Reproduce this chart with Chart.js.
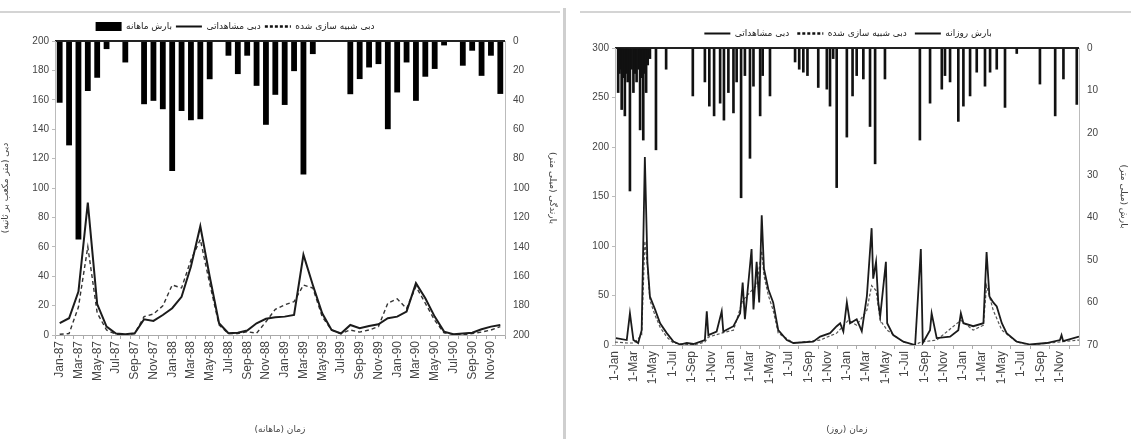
<!DOCTYPE html>
<html>
<head>
<meta charset="utf-8">
<script src="https://cdn.jsdelivr.net/npm/chart.js@4.4.0/dist/chart.umd.min.js"></script>
<style>
  body { margin: 0; background: #fff; }
  #wrap { position: relative; width: 1131px; height: 439px; overflow: hidden; background: #fff; }
  #left { position: absolute; left: 0; top: 0; width: 560px; height: 439px; }
  #right { position: absolute; left: 565px; top: 0; width: 566px; height: 439px; }
  .hline { position: absolute; top: 11px; height: 2px; background: #d4d4d4; }
  .vline { position: absolute; left: 563px; top: 8px; width: 3px; height: 431px; background: #cfcfcf; }
</style>
</head>
<body>
<div id="wrap">
  <div class="hline" style="left:0;width:560px"></div>
  <div class="hline" style="left:580px;width:551px"></div>
  <div class="vline"></div>
  <div id="left"><canvas id="chartLeft"></canvas></div>
  <div id="right"><canvas id="chartRight"></canvas></div>
</div>
<script>
// ---- monthly panel ----
var monthLabels = [
  'Jan-87','Feb-87','Mar-87','Apr-87','May-87','Jun-87','Jul-87','Aug-87','Sep-87','Oct-87','Nov-87','Dec-87',
  'Jan-88','Feb-88','Mar-88','Apr-88','May-88','Jun-88','Jul-88','Aug-88','Sep-88','Oct-88','Nov-88','Dec-88',
  'Jan-89','Feb-89','Mar-89','Apr-89','May-89','Jun-89','Jul-89','Aug-89','Sep-89','Oct-89','Nov-89','Dec-89',
  'Jan-90','Feb-90','Mar-90','Apr-90','May-90','Jun-90','Jul-90','Aug-90','Sep-90','Oct-90','Nov-90','Dec-90'
];
var rainMonthly = [42, 71, 135, 34, 25, 5.5, 0, 14.6, 0, 43, 40.7, 46.4,
                   88.5, 47.6, 53.9, 53.2, 26, 0, 10, 22.5, 10, 30.5, 57, 36.6,
                   43.5, 20.5, 90.8, 8.9, 0, 0, 0, 36.2, 25.9, 18, 15.7, 60,
                   35, 14.6, 40.7, 24.3, 19, 3, 0, 16.8, 6.6, 23.7, 10, 36];
var obsMonthly = [8, 11.4, 29.6, 90, 21, 5.7, 1, 0.5, 1.2, 10.7, 9.6, 13.6,
                  18.2, 26, 46.6, 74, 39.8, 8, 1.2, 1.6, 3, 8, 11, 12,
                  12.5, 13.6, 54.6, 34, 14.8, 3.4, 1, 6.8, 4.6, 6.1, 7.3, 11.4,
                  12.5, 15.9, 35.3, 25, 12.5, 2.3, 0.5, 1, 1.6, 3.9, 5.7, 6.8];
var simMonthly = [0.5, 1, 19, 60, 15, 3.4, 0.5, 0, 1, 12.5, 14.3, 19.8,
                  34, 32, 51, 65, 35, 6.8, 1, 1, 2.3, 1.2, 9, 17.5,
                  20.5, 22.7, 34, 32, 12.5, 3.4, 1, 3.4, 2, 3.4, 5.7, 21.6,
                  24.6, 18, 33, 21.6, 10, 1.5, 0.5, 0, 1, 2, 3.4, 5.7];

// ---- daily panel ----
var dayTicks = [0, 59, 120, 181, 243, 304, 365, 425, 486, 547, 609, 670,
                731, 790, 851, 912, 974, 1035, 1096, 1155, 1216, 1277, 1339, 1400];
var dayTickLabels = ['1-Jan','1-Mar','1-May','1-Jul','1-Sep','1-Nov','1-Jan','1-Mar','1-May','1-Jul','1-Sep','1-Nov',
                     '1-Jan','1-Mar','1-May','1-Jul','1-Sep','1-Nov','1-Jan','1-Mar','1-May','1-Jul','1-Sep','1-Nov'];
var obsDays = [3, 37, 47, 58, 73, 84, 94, 102, 110, 126, 142, 163, 184, 205, 226, 247, 283, 289, 294, 320, 336, 341,
               373, 394, 402, 409, 430, 436, 446, 454, 462, 469, 483, 498, 514, 541, 562, 624, 646, 677, 698, 709,
               719, 730, 740, 761, 777, 793, 808, 813, 822, 829, 835, 853, 857, 876, 908, 945, 963, 969, 992, 997,
               1013, 1055, 1081, 1089, 1097, 1128, 1160, 1170, 1179, 1191, 1202, 1218, 1233, 1265, 1307, 1359, 1401,
               1406, 1411, 1461];
var obsFlow = [7, 5, 32, 5, 2, 15, 190, 84, 49, 36, 22, 12, 3.4, 0.5, 2, 1, 5, 34, 10, 13.6, 34, 13.6,
               19, 32, 63, 26, 97, 36, 84, 43, 131, 77, 56, 43, 15, 5, 2, 3.4, 8.5, 12, 19, 22,
               13.6, 43, 22, 26, 14, 49, 118, 67, 84, 43, 29, 84, 22, 10, 3.4, 0, 97, 2, 15, 32,
               7, 8.5, 15, 32, 22, 19, 22, 94, 49, 43, 39, 22, 12, 3.4, 0.5, 2, 5,
               10, 4, 8.5];
var simDays = [0, 40, 60, 84, 94, 102, 110, 126, 142, 163, 184, 247, 283, 294, 336, 373, 402, 430, 446, 462, 469,
               483, 498, 514, 562, 646, 698, 735, 761, 793, 808, 822, 835, 857, 908, 945, 963, 1013, 1089, 1128,
               1160, 1170, 1191, 1218, 1265, 1307, 1461];
var simFlow = [3, 2, 2, 10, 105, 80, 45, 30, 18, 8, 2, 0, 3, 8, 12, 15, 45, 55, 60, 95, 70,
               50, 35, 12, 2, 5, 12, 25, 20, 35, 60, 55, 25, 15, 3, 0, 3, 5, 25, 15,
               20, 60, 35, 15, 3, 0, 5];
var rainDays = [10, 14, 17, 21, 25, 31, 36, 40, 47, 52, 58, 63, 68, 74, 79, 84, 89, 93, 98, 103, 110, 129, 161,
                245, 283, 297, 312, 331, 343, 357, 373, 383, 397, 409, 425, 436, 457, 465, 488,
                567, 580, 593, 606, 640, 667, 677, 687, 698, 730, 748, 761, 782, 803, 819, 850,
                960, 992, 1029, 1039, 1055, 1081, 1097, 1118, 1139, 1165, 1181, 1202, 1228, 1265,
                1338, 1386, 1412, 1454];
var rainDaily = [10.5, 6, 5, 14.5, 7, 16, 6, 8, 33.7, 5, 10.5, 6, 8, 5, 19.3, 7, 21.7, 6, 10.5, 4, 2.5, 24, 5,
                 11.3, 8, 13.7, 16, 13, 17, 10.5, 15.3, 8, 35.3, 6.5, 26, 9, 16, 6.5, 11.3,
                 3.3, 5, 5.7, 6.5, 9.3, 9.7, 13.7, 2.5, 32.9, 21, 11.3, 6.5, 7.3, 18.5, 27.3, 7.3,
                 21.7, 13, 9.7, 6.5, 8, 17.3, 13.7, 11.3, 5.7, 9, 5.7, 5, 14, 1.3,
                 8.5, 16, 7.3, 13.3];

var tickFont = { family: "'Liberation Sans', 'DejaVu Sans'", size: 10 };
var xTickFont = { family: "'Liberation Sans', 'DejaVu Sans'", size: 12 };
var faFont = { family: "'DejaVu Sans'", size: 9 };

function topLineOnly(ctx) {
  return ctx.tick && ctx.tick.value === 0 ? '#222' : 'rgba(0,0,0,0)';
}

function legendLines(chart) {
  var items = Chart.defaults.plugins.legend.labels.generateLabels(chart);
  items.forEach(function(it) {
    var ds = chart.data.datasets[it.datasetIndex];
    if (it.pointStyle !== 'rect') {
      it.pointStyle = 'line';
      it.lineWidth = ds.borderDash ? 2.5 : 2;
      it.strokeStyle = '#111';
      it.lineDash = ds.borderDash ? [3, 2] : [];
    }
  });
  return items;
}

function byIndex(a, b) { return a.datasetIndex - b.datasetIndex; }

// move the left legend a little to the left, as in the original figure
var shiftLegend = {
  id: 'shiftLegend',
  afterLayout: function(chart) {
    chart.legend.left -= 45;
    chart.legend.right -= 45;
  }
};

new Chart(document.getElementById('chartLeft'), {
  data: {
    labels: monthLabels,
    datasets: [
      { type: 'bar', label: 'بارش ماهانه', data: rainMonthly, yAxisID: 'yRain',
        backgroundColor: '#000', borderWidth: 0, barPercentage: 0.62, categoryPercentage: 1,
        pointStyle: 'rect', order: 3 },
      { type: 'line', label: 'دبی مشاهداتی', data: obsMonthly, yAxisID: 'yQ',
        borderColor: '#1b1b1b', backgroundColor: '#1b1b1b', borderWidth: 2, pointRadius: 0,
        tension: 0, pointStyle: 'line', order: 1 },
      { type: 'line', label: 'دبی شبیه سازی شده', data: simMonthly, yAxisID: 'yQ',
        borderColor: '#333', backgroundColor: '#333', borderWidth: 1.4, borderDash: [4, 3],
        pointRadius: 0, tension: 0, pointStyle: 'line', order: 2 }
    ]
  },
  plugins: [shiftLegend],
  options: {
    responsive: true,
    maintainAspectRatio: false,
    animation: false,
    layout: { padding: { top: 18, right: 0, left: 0, bottom: 0 } },
    plugins: {
      legend: {
        position: 'top',
        labels: { usePointStyle: true, pointStyleWidth: 26, boxHeight: 10, font: faFont,
                  color: '#222', padding: 4, generateLabels: legendLines, sort: byIndex }
      },
      tooltip: { enabled: false }
    },
    scales: {
      x: {
        offset: true,
        border: { color: '#aaa' },
        grid: { drawOnChartArea: false, tickLength: 4, color: '#aaa' },
        ticks: { autoSkip: false, maxRotation: 90, minRotation: 90, font: xTickFont, color: '#444', padding: 2,
                 callback: function(v, i) { return i % 2 === 0 ? monthLabels[i] : ''; } },
        title: { display: true, text: 'زمان (ماهانه)', font: faFont, color: '#444', padding: 4 },
        afterFit: function(s) { s.height = 104; }
      },
      yQ: {
        position: 'left', min: 0, max: 200,
        border: { color: '#bbb' },
        grid: { drawOnChartArea: false, tickLength: 3, color: '#bbb' },
        ticks: { stepSize: 20, font: tickFont, color: '#444' },
        title: { display: true, text: 'دبی (متر مکعب بر ثانیه)', font: faFont, color: '#444', padding: 0 },
        afterFit: function(s) { s.width = 55; }
      },
      yRain: {
        position: 'right', min: 0, max: 200, reverse: true,
        border: { color: '#bbb' },
        grid: { drawOnChartArea: true, drawTicks: false, color: topLineOnly, lineWidth: 2 },
        ticks: { stepSize: 20, font: tickFont, color: '#444', padding: 8 },
        title: { display: true, text: 'بارندگی (میلی متر)', font: faFont, color: '#444', padding: 2 },
        afterFit: function(s) { s.width = 55; }
      }
    }
  }
});

new Chart(document.getElementById('chartRight'), {
  data: {
    datasets: [
      { type: 'line', label: 'دبی مشاهداتی', yAxisID: 'yQ',
        data: obsDays.map(function(d, i) { return { x: d, y: obsFlow[i] }; }),
        borderColor: '#1b1b1b', backgroundColor: '#1b1b1b', borderWidth: 1.8, pointRadius: 0, tension: 0, order: 1 },
      { type: 'line', label: 'دبی شبیه سازی شده', yAxisID: 'yQ',
        data: simDays.map(function(d, i) { return { x: d, y: simFlow[i] }; }),
        borderColor: '#555', backgroundColor: '#555', borderWidth: 1.2, borderDash: [3, 2],
        pointRadius: 0, tension: 0, order: 2 },
      { type: 'bar', label: 'بارش روزانه', yAxisID: 'yRain',
        data: rainDays.map(function(d, i) { return { x: d, y: rainDaily[i] }; }),
        backgroundColor: '#111', borderWidth: 0, barThickness: 2, order: 3 }
    ]
  },
  options: {
    responsive: true,
    maintainAspectRatio: false,
    animation: false,
    layout: { padding: { top: 21, right: 0, left: 0, bottom: 0 } },
    plugins: {
      legend: {
        position: 'top',
        labels: { usePointStyle: true, pointStyleWidth: 26, boxHeight: 10, font: faFont,
                  color: '#222', padding: 8, generateLabels: legendLines, sort: byIndex }
      },
      tooltip: { enabled: false }
    },
    scales: {
      x: {
        type: 'linear', min: 0, max: 1461, offset: false,
        border: { color: '#aaa' },
        grid: { drawOnChartArea: false, tickLength: 4, color: '#aaa' },
        afterBuildTicks: function(s) { s.ticks = dayTicks.map(function(d) { return { value: d }; }); },
        ticks: { autoSkip: false, maxRotation: 90, minRotation: 90, font: xTickFont, color: '#444', padding: 2,
                 callback: function(v, i) { return dayTickLabels[i]; } },
        title: { display: true, text: 'زمان (روز)', font: faFont, color: '#444', padding: 4 },
        afterFit: function(s) { s.height = 94; }
      },
      yQ: {
        position: 'left', min: 0, max: 300,
        border: { color: '#bbb' },
        grid: { drawOnChartArea: false, tickLength: 3, color: '#bbb' },
        ticks: { stepSize: 50, font: tickFont, color: '#444' },
        afterFit: function(s) { s.width = 50; }
      },
      yRain: {
        position: 'right', min: 0, max: 70, reverse: true,
        border: { color: '#bbb' },
        grid: { drawOnChartArea: true, drawTicks: false, color: topLineOnly, lineWidth: 2 },
        ticks: { stepSize: 10, font: tickFont, color: '#444', padding: 8 },
        title: { display: true, text: 'بارش (میلی متر)', font: faFont, color: '#444', padding: 2 },
        afterFit: function(s) { s.width = 52; }
      }
    }
  }
});
</script>
</body>
</html>
